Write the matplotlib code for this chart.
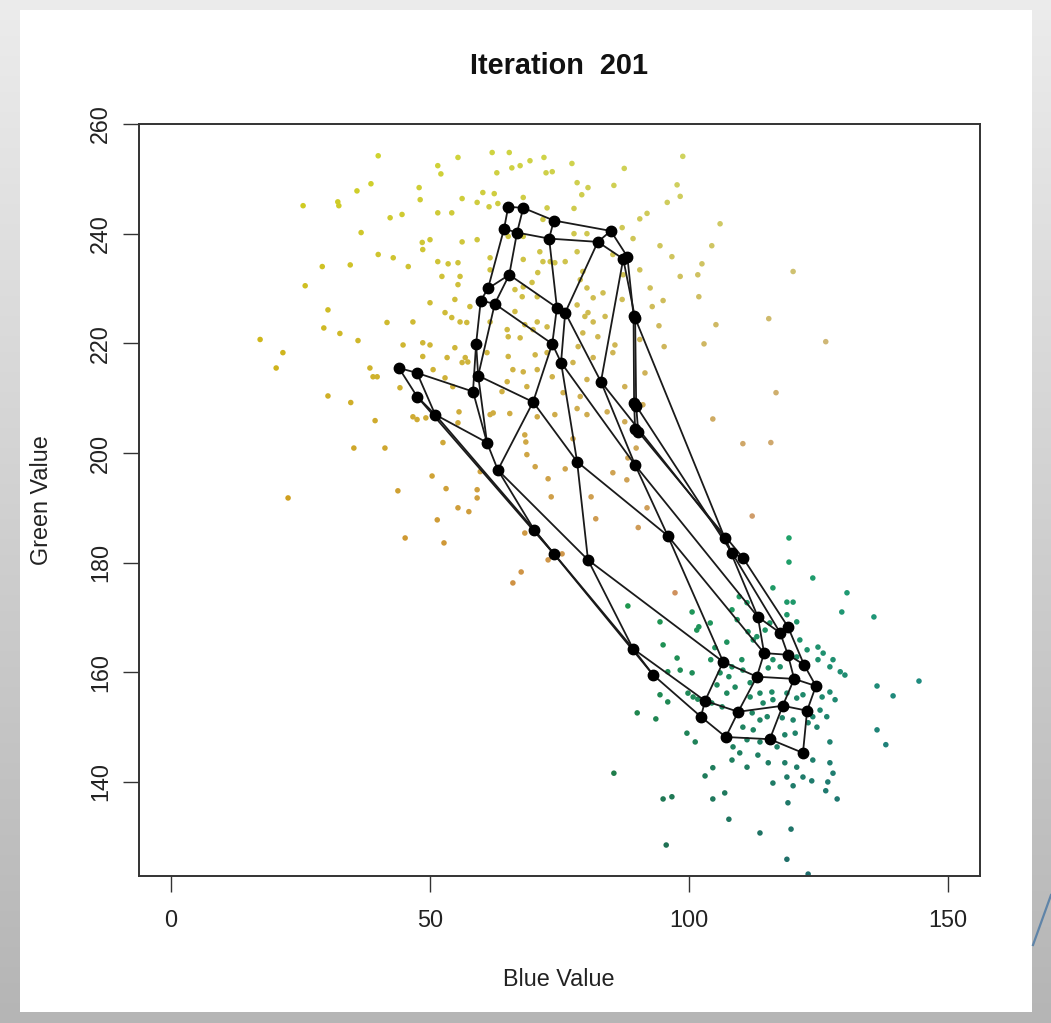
import matplotlib
matplotlib.use("Agg")
import matplotlib.pyplot as plt
import numpy as np
from matplotlib.patches import Rectangle
from matplotlib.lines import Line2D

plt.rcParams['font.family'] = ['Liberation Sans', 'DejaVu Sans']

# ---------------- data ----------------
title_text = "Iteration  201"
x_label = "Blue Value"
y_label = "Green Value"
x_ticks = [0, 50, 100, 150]
y_ticks = [140, 160, 180, 200, 220, 240, 260]

# warm (yellow / orange) pixels: blue, green
warm_blue = [40.0, 51.5, 52.1, 55.4, 38.6, 35.9, 47.9, 25.5, 32.2, 32.4, 36.7, 40.0, 34.6, 29.2, 25.9, 30.3, 29.5, 32.6, 36.1, 17.2, 21.6, 20.3, 38.4,
             62.0, 65.3, 72.0, 69.3, 67.4, 65.8, 62.9, 72.4, 73.6, 77.4, 98.8, 87.5, 78.4, 80.5, 85.5, 60.2, 62.4, 68.0, 59.1, 61.4, 63.1, 72.6, 77.8, 79.3, 97.7, 98.3, 95.8, 91.9, 90.5, 71.8, 77.8, 80.3, 87.1, 89.2, 94.4, 106.0, 104.4, 59.1, 65.1, 68.0,
             42.3, 44.6, 48.1, 51.5, 54.2, 56.2, 50.0, 48.5, 48.6, 56.2, 42.9, 45.8, 51.5, 53.5, 55.4, 55.8, 55.4, 52.3, 61.6, 61.6, 68.0, 71.2, 71.8, 73.2, 74.1, 70.8, 76.1, 79.0, 80.3, 81.5, 79.5, 78.4, 80.5, 78.4, 66.4, 67.8, 68.0, 69.7, 70.7, 66.4, 68.3, 70.7, 72.6, 52.9, 54.2, 55.8, 57.1, 57.7, 54.8, 50.0, 46.7, 48.6, 50.0, 44.8, 41.7, 64.9, 65.1, 61.6, 67.4, 69.9, 79.9, 81.5, 79.5, 82.4, 78.6, 81.5, 77.6, 72.6, 70.3, 68.0, 70.7, 68.7, 73.6, 80.3, 75.7, 79.0, 63.9, 64.9, 66.0, 56.2, 56.8, 57.3, 54.4, 52.9, 50.6, 53.3, 48.6, 54.8, 61.0, 65.1, 44.2, 85.3, 90.5, 87.3,
             46.7, 47.5, 52.5, 55.6, 61.6, 62.2, 65.4, 70.7, 74.1, 80.3, 68.3, 68.5, 68.7, 70.3, 72.8, 76.1, 77.6, 78.4, 41.3, 43.8, 50.4, 53.1, 59.1, 59.1, 55.4, 57.5, 51.4, 45.2, 52.7, 59.7, 68.3, 73.4, 81.1, 82.0, 72.8, 75.5, 67.6, 66.0, 55.4, 49.2,
             39.0, 39.8, 30.3, 34.7, 39.4, 35.3, 22.6,
             96.7, 102.5, 101.7, 98.3, 120.1, 92.5, 95.0, 92.9, 101.9, 115.4, 105.2, 94.2, 102.9, 95.2, 126.4, 85.7, 85.3, 83.4, 83.8, 87.1, 90.5, 91.5, 87.6, 116.8, 104.6, 91.1, 84.2, 87.6, 110.4, 115.8, 89.8, 88.2, 85.3, 88.0, 91.9, 112.2, 90.2, 97.3]
warm_green = [254.2, 252.4, 250.9, 253.9, 249.1, 247.8, 248.4, 245.1, 245.8, 245.1, 240.2, 236.2, 234.3, 234.0, 230.5, 226.1, 222.8, 221.8, 220.5, 220.7, 218.3, 215.5, 215.5,
              254.8, 254.8, 253.9, 253.3, 252.4, 252.0, 251.1, 251.1, 251.3, 252.8, 254.1, 251.9, 249.3, 248.4, 248.8, 247.5, 247.3, 246.6, 245.7, 244.9, 245.5, 244.7, 244.6, 247.1, 248.9, 246.8, 245.7, 243.7, 242.7, 242.6, 240.0, 240.0, 241.1, 239.1, 237.8, 241.8, 237.8, 238.9, 239.5, 239.5,
              242.9, 243.5, 246.2, 243.8, 243.8, 246.4, 238.9, 238.4, 237.1, 238.5, 235.6, 234.0, 234.9, 234.5, 234.7, 232.2, 230.7, 232.2, 235.6, 233.4, 235.3, 236.7, 234.9, 234.9, 234.7, 232.9, 234.9, 231.6, 230.1, 228.3, 233.1, 236.7, 225.6, 227.0, 229.8, 228.5, 230.3, 231.1, 228.5, 225.8, 223.4, 223.9, 223.0, 225.6, 224.7, 223.9, 223.8, 226.7, 228.0, 227.4, 223.9, 220.1, 219.7, 219.7, 223.8, 222.5, 221.2, 223.9, 221.0, 222.5, 224.9, 223.9, 221.9, 221.2, 219.4, 217.4, 216.5, 218.3, 217.9, 214.8, 215.2, 212.1, 213.9, 213.4, 211.0, 210.3, 211.2, 213.0, 215.2, 216.5, 217.4, 216.6, 212.1, 213.7, 215.2, 217.4, 217.6, 219.2, 218.3, 217.6, 211.9, 236.2, 233.4, 232.5,
              206.6, 206.1, 201.9, 207.5, 207.0, 207.3, 207.2, 206.6, 207.0, 207.0, 203.3, 202.0, 199.7, 197.5, 195.3, 197.1, 202.6, 208.1, 200.9, 193.1, 195.8, 193.5, 193.3, 191.8, 190.0, 189.3, 187.8, 184.5, 183.6, 196.6, 185.4, 192.0, 192.0, 188.0, 180.5, 181.6, 178.3, 176.3, 205.5, 206.4,
              213.9, 213.9, 210.4, 209.2, 205.9, 200.9, 191.8,
              235.8, 234.5, 232.5, 232.2, 233.1, 230.1, 227.8, 226.7, 228.5, 224.5, 223.4, 223.2, 219.9, 219.4, 220.3, 219.7, 218.3, 229.2, 224.9, 228.0, 220.7, 214.6, 212.1, 211.0, 206.2, 208.8, 207.5, 205.7, 201.7, 201.9, 200.9, 199.1, 196.4, 195.1, 190.0, 188.5, 186.4, 174.5]

# green pixels: blue, green
cool_blue = [119.3, 88.2, 100.6, 101.5, 101.9, 104.1, 94.4, 95.0, 97.7, 98.3, 95.9, 100.6, 94.4, 95.9, 99.8, 100.8, 101.7, 90.0, 93.6, 99.6, 101.2, 104.6, 103.1, 85.5, 108.3, 109.3, 111.2, 109.7, 116.2, 112.4, 111.4, 107.3, 105.0, 104.2, 106.0, 107.7, 108.3, 110.2, 110.4, 116.2, 117.6, 115.3, 111.8, 108.9, 107.3, 105.4, 104.4, 106.4, 111.8, 113.7, 116.0, 114.3, 116.2, 118.9, 120.8, 122.0, 112.2, 113.7, 115.1, 118.0, 120.1, 123.0, 123.9, 110.4, 112.4, 111.2, 113.7, 117.0, 118.5, 120.5, 108.5, 109.8, 108.3, 113.3, 115.3, 118.5, 120.8, 123.9, 124.7, 125.3, 125.7, 126.6, 127.2, 128.2, 127.8, 129.2, 130.1, 130.5, 123.9, 129.5, 118.9, 120.1, 118.9, 120.8, 121.4, 120.8, 122.8, 124.9, 125.9, 127.2, 124.9, 113.1, 114.7, 115.6, 127.2, 127.2, 111.2, 127.8, 118.9, 122.0, 119.3,
             135.7, 136.3, 139.4, 144.4, 136.3, 138.0, 116.2, 120.1, 123.7, 126.8, 126.4, 128.6, 119.1, 113.7, 119.7, 118.9, 123.0,
             95.0, 96.7, 95.6, 106.9, 104.6, 107.7]
cool_green = [184.5, 172.1, 171.0, 167.7, 168.3, 169.0, 169.2, 165.0, 162.6, 160.4, 160.1, 159.9, 155.9, 154.6, 156.2, 155.5, 155.1, 152.6, 151.5, 148.9, 147.3, 142.6, 141.1, 141.6, 171.4, 169.6, 172.7, 173.8, 175.4, 165.9, 167.4, 165.5, 164.5, 162.3, 159.9, 159.2, 161.0, 162.3, 160.4, 162.3, 161.0, 160.8, 158.1, 157.3, 156.2, 157.7, 154.4, 153.7, 155.5, 156.2, 156.4, 154.4, 155.0, 156.2, 155.3, 155.9, 152.6, 151.3, 151.9, 151.7, 151.3, 150.8, 151.9, 150.0, 149.5, 147.7, 147.3, 146.4, 148.6, 148.9, 146.4, 145.3, 144.0, 144.9, 143.5, 143.5, 142.7, 144.0, 150.0, 153.1, 155.5, 151.9, 156.4, 155.0, 162.3, 160.1, 159.5, 174.5, 177.2, 171.0, 172.8, 172.8, 170.5, 169.2, 165.9, 162.8, 164.1, 164.6, 163.5, 161.0, 162.3, 166.5, 167.7, 169.0, 147.3, 143.5, 142.7, 141.6, 140.9, 140.9, 180.1,
              170.1, 157.5, 155.7, 158.4, 149.5, 146.8, 139.8, 139.3, 140.2, 140.0, 138.4, 136.9, 136.2, 130.7, 131.4, 125.9, 123.2,
              136.9, 137.3, 128.5, 138.0, 136.9, 133.2]

# SOM codebook nodes (ids 1..64): blue, green
node_blue = [65.1, 68.0, 73.9, 84.9, 64.3, 66.8, 73.0, 82.4, 87.3, 88.1, 65.3, 61.2, 59.8, 62.5, 74.5, 76.1, 89.3, 58.9, 73.6, 75.3, 83.0,
             59.3, 44.0, 47.5, 58.3, 47.5, 51.0, 69.9, 89.4, 89.8, 89.6, 90.2, 61.0, 89.6, 95.9, 106.9, 108.3, 110.4, 63.1, 78.4, 70.1, 73.9,
             80.5, 89.2, 93.1, 113.3, 119.1, 117.6, 114.5, 119.1, 122.2, 106.6, 113.1, 120.3, 124.5, 103.1, 109.5, 118.1, 122.8, 102.3, 107.1, 115.6, 122.0,
             89.6]
node_green = [244.9, 244.7, 242.4, 240.5, 240.9, 240.2, 239.1, 238.5, 235.4, 235.8, 232.5, 230.0, 227.8, 227.2, 226.5, 225.6, 225.0, 219.9, 219.9, 216.5, 213.0,
              214.1, 215.5, 214.6, 211.2, 210.3, 207.0, 209.3, 209.2, 208.6, 204.4, 203.9, 201.9, 197.8, 184.9, 184.5, 181.8, 180.9, 196.9, 198.4, 186.0, 181.6,
              180.5, 164.3, 159.5, 170.1, 168.3, 167.2, 163.5, 163.2, 161.4, 161.9, 159.2, 158.8, 157.5, 154.8, 152.8, 153.9, 153.0, 151.9, 148.2, 147.8, 145.3,
              224.6]

# 8 x 8 map topology: node id at each grid cell
som_grid = [[1, 2, 3, 4, 10, 17, 29, 31],
            [5, 6, 7, 8, 9, 64, 30, 32],
            [12, 11, 15, 16, 21, 36, 37, 38],
            [13, 14, 19, 20, 34, 46, 48, 47],
            [18, 22, 28, 40, 35, 49, 50, 51],
            [25, 33, 39, 43, 52, 53, 54, 55],
            [24, 27, 41, 44, 56, 57, 58, 59],
            [23, 26, 42, 45, 60, 61, 62, 63]]

# ---------------- figure ----------------
W, H = 1051, 1023
fig = plt.figure(figsize=(W / 100, H / 100), dpi=100)

bg = fig.add_axes([0, 0, 1, 1])
bg.set_axis_off()
top_c = np.array([0.925, 0.925, 0.925])
bot_c = np.array([0.71, 0.71, 0.71])
t = np.linspace(0, 1, 256)[:, None]
grad = top_c[None, :] * (1 - t) + bot_c[None, :] * t
bg.imshow(grad[:, None, :], extent=[0, 1, 0, 1], aspect='auto', origin='upper')
bg.add_patch(Rectangle((20 / W, 1 - 1012 / H), 1012 / W, 1002 / H, transform=bg.transAxes,
                       facecolor='white', edgecolor='none'))
bg.add_line(Line2D([1.0, 1033 / W], [1 - 895 / H, 1 - 945 / H], transform=bg.transAxes,
                   color='#5f84a8', lw=1.6))
bg.set_xlim(0, 1)
bg.set_ylim(0, 1)

ax = fig.add_axes([139 / W, 1 - 876 / H, (980 - 139) / W, (876 - 124) / H])
ax.set_facecolor('none')

wb = np.array(warm_blue)
wg = np.array(warm_green)
warm_cols = np.clip(np.column_stack([np.full(len(wb), 250.0), wg, wb + 15]) / 255.0, 0, 1) * 0.83
cb = np.array(cool_blue)
cg = np.array(cool_green)
cool_cols = np.clip(np.column_stack([np.full(len(cb), 35.0), cg, cb]) / 255.0, 0, 1) * 0.88

ax.scatter(wb, wg, s=16, c=warm_cols, edgecolors='none', zorder=2)
ax.scatter(cb, cg, s=16, c=cool_cols, edgecolors='none', zorder=2)

g = np.array(som_grid) - 1
nb = np.array(node_blue)
ng = np.array(node_green)
line_kw = dict(color='#1a1a1a', lw=1.3, zorder=3, solid_capstyle='round')
for r in range(g.shape[0]):
    ax.plot(nb[g[r, :]], ng[g[r, :]], **line_kw)
for c in range(g.shape[1]):
    ax.plot(nb[g[:, c]], ng[g[:, c]], **line_kw)
ax.plot(nb, ng, 'o', color='black', ms=7.5, ls='none', zorder=4)

ax.set_xlim(-6.18, 156.18)
ax.set_ylim(122.85, 260.0)
ax.set_xticks(x_ticks)
ax.set_yticks(y_ticks)
ax.tick_params(axis='both', length=11.5, width=1.0, color='#333333', labelsize=16.8, labelcolor='#222222')
ax.tick_params(axis='x', pad=12)
ax.tick_params(axis='y', pad=8, labelrotation=90)
for lab in ax.get_yticklabels():
    lab.set_va('center')
for sp in ax.spines.values():
    sp.set_linewidth(1.4)
    sp.set_color('#333333')

fig.text(559 / W, 1 - 66 / H, title_text, ha='center', va='center', fontsize=20.8, fontweight='bold', color='#111111')
fig.text(559 / W, 1 - 980 / H, x_label, ha='center', va='center', fontsize=16.8, color='#222222')
fig.text(42 / W, 1 - 500 / H, y_label, ha='center', va='center', rotation=90, fontsize=16.8, color='#222222')

fig.savefig('out.png', dpi=100)
